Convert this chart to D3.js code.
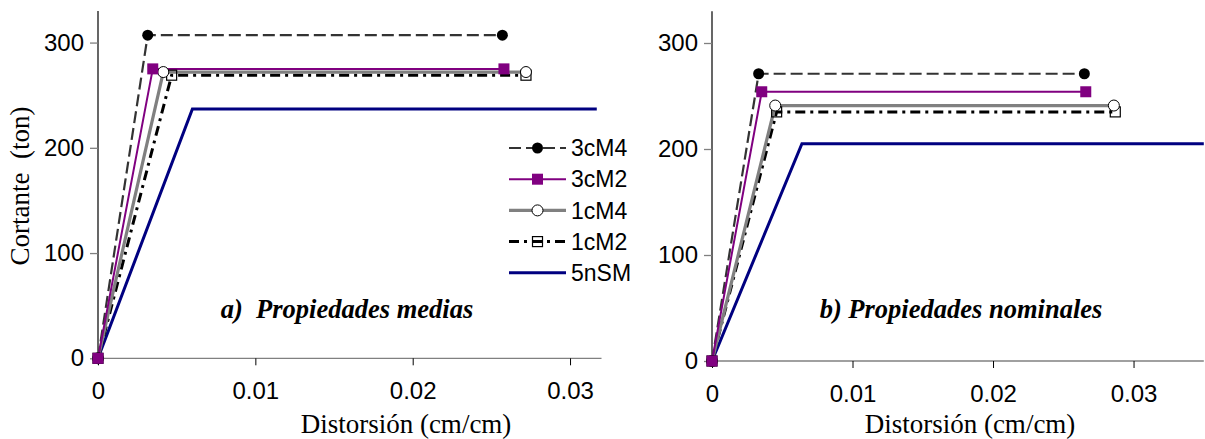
<!DOCTYPE html>
<html><head><meta charset="utf-8">
<script src="https://cdn.jsdelivr.net/npm/d3@7"></script>
<style>body{margin:0;background:#fff}svg{display:block}text{white-space:pre}</style>
</head><body>
<svg id="c" width="1205" height="439"></svg>
<script>
const seriesNames = ["3cM4","3cM2","1cM4","1cM2","5nSM"];
// Panel a) Propiedades medias: [drift, shear] points
const medias_3cM4 = [[0,0],[0.00316,307],[0.0257,307]];
const medias_3cM2 = [[0,0],[0.00348,275],[0.0258,275]];
const medias_1cM4 = [[0,0],[0.00415,272],[0.0272,272]];
const medias_1cM2 = [[0,0],[0.00468,269],[0.0272,269]];
const medias_5nSM = [[0,0],[0.0060,237],[0.0317,237]];
// Panel b) Propiedades nominales
const nominales_3cM4 = [[0,0],[0.00332,271],[0.0265,271]];
const nominales_3cM2 = [[0,0],[0.00354,254],[0.0266,254]];
const nominales_1cM4 = [[0,0],[0.0045,241],[0.0286,241]];
const nominales_1cM2 = [[0,0],[0.0046,235],[0.0287,235]];
const nominales_5nSM = [[0,0],[0.0064,205],[0.035,205]];
const xTicks = [0,0.01,0.02,0.03];
const xTickLabels = ["0","0.01","0.02","0.03"];
const yTicks = [0,100,200,300];
const yTickLabels = ["0","100","200","300"];
const panelTitles = ["a)  Propiedades medias","b) Propiedades nominales"];
const xTitle = "Distorsión (cm/cm)";
const yTitle = "Cortante  (ton)";

const styles = {
  "3cM4": {color:"#333333", width:2.2, dash:"12,5", marker:"dot"},
  "3cM2": {color:"#800080", width:2, dash:null, marker:"fsquare"},
  "1cM4": {color:"#808080", width:3.2, dash:null, marker:"ocircle"},
  "1cM2": {color:"#000000", width:3, dash:"10,5,3,5", marker:"osquare"},
  "5nSM": {color:"#000080", width:3, dash:null, marker:null}
};

const svg = d3.select("#c");
const panels = [
  {data:[medias_3cM4,medias_3cM2,medias_1cM4,medias_1cM2,medias_5nSM], xMax:0.032, x0:98, x1:601.5, y0:358.3, y1:11, title:panelTitles[0], tx:347, xtx:406, legend:true},
  {data:[nominales_3cM4,nominales_3cM2,nominales_1cM4,nominales_1cM2,nominales_5nSM], xMax:0.035, x0:712, x1:1203.8, y0:361, y1:11.2, title:panelTitles[1], tx:961, xtx:970, legend:false}
];

function drawMarker(g, type, cx, cy){
  if(type==="dot") g.append("circle").attr("cx",cx).attr("cy",cy).attr("r",5.5).attr("fill","#000");
  else if(type==="fsquare") g.append("rect").attr("x",cx-5.5).attr("y",cy-5.5).attr("width",11).attr("height",11).attr("fill","#800080");
  else if(type==="ocircle") g.append("circle").attr("cx",cx).attr("cy",cy).attr("r",5.5).attr("fill","#fff").attr("stroke","#000").attr("stroke-width",1);
  else if(type==="osquare") g.append("rect").attr("x",cx-5).attr("y",cy-5).attr("width",10).attr("height",10).attr("fill","none").attr("stroke","#000").attr("stroke-width",1.2);
}

const order = [4,3,2,0,1];
panels.forEach(p=>{
  const x = d3.scaleLinear().domain([0,p.xMax]).range([p.x0,p.x1]);
  const y = d3.scaleLinear().domain([0,330]).range([p.y0,p.y1]);
  const g = svg.append("g");
  const xa = g.append("g").attr("transform",`translate(0,${y(0)})`)
    .call(d3.axisBottom(x).tickValues(xTicks).tickFormat((d,i)=>xTickLabels[i]).tickSize(7).tickPadding(17));
  xa.select(".domain").attr("stroke","#808080").attr("stroke-width",1.3).attr("d",`M${p.x0},0H${p.x1}`);
  xa.selectAll(".tick line").attr("stroke","#000");
  xa.selectAll("text").attr("font-family","'Liberation Sans',Arial,sans-serif").attr("font-size",24).attr("fill","#000");
  const ya = g.append("g").attr("transform",`translate(${p.x0},0)`)
    .call(d3.axisLeft(y).tickValues(yTicks).tickFormat((d,i)=>yTickLabels[i]).tickSize(8).tickPadding(6));
  ya.select(".domain").attr("stroke","#000").attr("stroke-width",1.2).attr("d",`M0,${p.y1}V${p.y0}`);
  ya.selectAll(".tick line").attr("stroke","#808080").attr("stroke-width",1.3);
  ya.selectAll("text").attr("font-family","'Liberation Sans',Arial,sans-serif").attr("font-size",24).attr("fill","#000");

  const line = d3.line().x(d=>x(d[0])).y(d=>y(d[1]));
  order.forEach(i=>{
    const st = styles[seriesNames[i]];
    g.append("path").datum(p.data[i]).attr("d",line).attr("fill","none")
      .attr("stroke",st.color).attr("stroke-width",st.width).attr("stroke-dasharray",st.dash);
  });
  order.forEach(i=>{
    const st = styles[seriesNames[i]];
    if(st.marker) p.data[i].forEach(d=>drawMarker(g, st.marker, x(d[0]), y(d[1])));
  });

  g.append("text").attr("x",p.tx).attr("y",318).attr("text-anchor","middle")
    .attr("font-family","'Liberation Serif','Times New Roman',serif").attr("font-size",26.5)
    .attr("font-weight","bold").attr("font-style","italic").text(p.title);
  g.append("text").attr("x",p.xtx).attr("y",433).attr("text-anchor","middle")
    .attr("font-family","'Liberation Serif','Times New Roman',serif").attr("font-size",27).text(xTitle);

  if(p.legend){
    const lg = g.append("g");
    seriesNames.forEach((n,i)=>{
      const st = styles[n];
      const ly = 148 + i*31.2;
      lg.append("line").attr("x1",509).attr("x2",566).attr("y1",ly).attr("y2",ly)
        .attr("stroke",st.color).attr("stroke-width",st.width).attr("stroke-dasharray",st.dash);
      if(st.marker) drawMarker(lg, st.marker, 537.5, ly);
      lg.append("text").attr("x",571).attr("y",ly).attr("dy","0.36em")
        .attr("font-family","'Liberation Sans',Arial,sans-serif").attr("font-size",23).text(n);
    });
  }
});
svg.append("text").attr("transform","translate(29,186) rotate(-90)").attr("text-anchor","middle")
  .attr("font-family","'Liberation Serif','Times New Roman',serif").attr("font-size",27).text(yTitle);
</script>
</body></html>
